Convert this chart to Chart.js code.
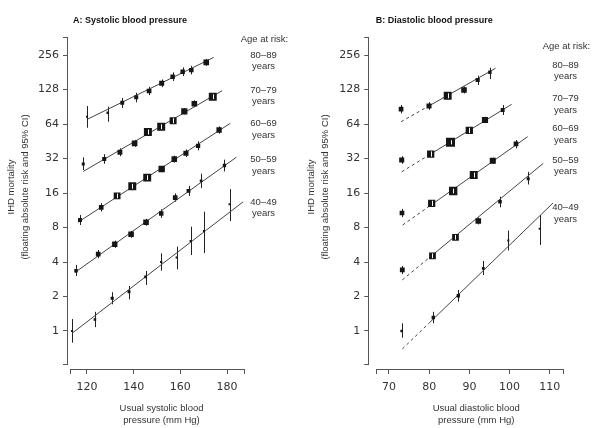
<!DOCTYPE html>
<html>
<head>
<meta charset="utf-8">
<script src="https://cdn.jsdelivr.net/npm/chart.js@4.4.1/dist/chart.umd.min.js"></script>
<style>
  html, body { margin: 0; padding: 0; background: #fff; }
  #wrap { position: relative; width: 606px; height: 428px; }
  canvas { position: absolute; top: 0; }
  #panelA { left: 0; }
  #panelB { left: 300px; }
</style>
</head>
<body>
<div id="wrap">
  <canvas id="panelA" width="300" height="428"></canvas>
  <canvas id="panelB" width="306" height="428"></canvas>
</div>
<script>
// age groups, top line first
const ageGroups = ['80–89', '70–79', '60–69', '50–59', '40–49'];
const yTickValues = [1, 2, 4, 8, 16, 32, 64, 128, 256];

// A: usual systolic blood pressure (mm Hg) vs IHD mortality
const sbpTicks = [120, 140, 160, 180];
const sbpX = [
  [120.0, 128.9, 135.1, 141.1, 146.6, 152.0, 156.7, 161.0, 164.7, 171.1],
  [118.4, 127.4, 134.1, 140.4, 146.1, 151.8, 156.9, 161.7, 166.0, 173.9],
  [117.0, 126.1, 132.9, 139.4, 145.8, 152.0, 157.4, 162.4, 167.6, 176.6],
  [115.3, 124.8, 131.9, 138.9, 145.3, 151.8, 157.8, 163.5, 168.9, 178.9],
  [113.6, 123.4, 130.8, 138.0, 145.1, 151.8, 158.4, 164.4, 170.1, 181.1]
];
const sbpRisk = [
  [74.1, 80.3, 98.2, 109.5, 124.2, 145, 165.6, 183, 189, 221],
  [28.7, 31.7, 36.3, 43.4, 54.5, 60.6, 68.4, 82.6, 96.2, 110.8],
  [9.30, 12.0, 15.1, 18.3, 21.8, 25.9, 31.6, 35.6, 41.3, 56.7],
  [3.36, 4.68, 5.72, 6.98, 8.88, 10.6, 14.6, 16.7, 20.4, 27.8],
  [1.0, 1.26, 1.93, 2.20, 2.96, 4.0, 4.38, 6.10, 7.46, 12.75]
];
const sbpLow = [
  [59.4, 67.0, 88.3, 99.0, 114.4, 134.2, 151.9, 167.8, 173.3, 206.2],
  [25.4, 28.8, 33.5, 40.5, 51.9, 57.7, 64.7, 77.6, 89.8, 105.5],
  [8.41, 11.04, 14.26, 17.43, 20.76, 24.37, 29.48, 32.99, 37.74, 52.72],
  [3.02, 4.31, 5.32, 6.51, 8.29, 9.72, 13.43, 15.10, 17.65, 24.71],
  [0.79, 1.08, 1.71, 1.89, 2.52, 3.36, 3.45, 4.60, 4.79, 9.1]
];
const sbpHigh = [
  [91.9, 90.6, 107.9, 120.0, 134.9, 156.7, 180.6, 199.6, 206.1, 236.9],
  [32.8, 34.9, 39.3, 46.5, 57.2, 63.6, 72.3, 87.9, 103.1, 116.3],
  [10.28, 13.04, 15.99, 19.22, 22.89, 27.53, 33.87, 38.42, 45.19, 60.98],
  [3.77, 5.09, 6.15, 7.48, 9.52, 11.56, 15.87, 18.47, 23.58, 31.28],
  [1.27, 1.47, 2.18, 2.47, 3.34, 4.76, 5.44, 8.13, 10.99, 17.3]
];
const sbpFitX = [[120.4, 174.3], [118.4, 177.9], [116.1, 181.4], [114.9, 184.0], [113.6, 186.9]];
const sbpFitY = [[70.8, 244], [24.7, 125], [8.88, 64.9], [3.25, 32.8], [0.955, 13.4]];

// B: usual diastolic blood pressure (mm Hg) vs IHD mortality
const dbpTicks = [70, 80, 90, 100, 110];
const dbpX = [
  [73.0, 79.95, 84.6, 88.66, 92.06, 95.1],
  [73.16, 80.37, 85.30, 89.98, 93.88, 98.28],
  [73.23, 80.62, 85.97, 91.07, 95.82, 101.59],
  [73.31, 80.82, 86.54, 92.21, 97.61, 104.63],
  [73.16, 81.02, 87.24, 93.46, 99.68, 107.49]
];
const dbpRisk = [
  [86.2, 91.9, 112.8, 126.8, 154.9, 181.2],
  [31.05, 35.0, 44.3, 56.2, 69.4, 84.8],
  [10.71, 13.0, 16.66, 22.97, 30.55, 43.0],
  [3.41, 4.53, 6.57, 9.12, 13.43, 21.3],
  [1.0, 1.31, 2.03, 3.52, 6.16, 7.81]
];
const dbpLow = [
  [79.3, 85.1, 107.4, 118.3, 140.1, 158.0],
  [28.75, 33.18, 42.42, 53.28, 65.16, 76.7],
  [9.86, 12.32, 15.90, 21.87, 28.66, 39.3],
  [3.14, 4.28, 6.20, 8.51, 12.0, 18.98],
  [0.874, 1.17, 1.80, 3.08, 5.04, 5.63]
];
const dbpHigh = [
  [93.7, 99.3, 118.5, 135.9, 168.9, 198.4],
  [33.53, 36.92, 46.26, 59.28, 73.92, 93.7],
  [11.63, 13.72, 17.45, 24.13, 32.57, 46.4],
  [3.69, 4.80, 6.96, 9.77, 14.86, 24.5],
  [1.167, 1.47, 2.28, 4.08, 7.53, 10.28]
];
// fitted lines: dashed up to the middle point (extrapolated below the data)
const dbpFitX = [[73.0, 80, 96.5], [73.16, 80, 100.52], [73.4, 80, 104.5], [73.31, 80, 108.38], [73.31, 80, 110.8]];
const dbpFitY = [[67.0, 92.3, 196], [24.5, 34.4, 95.1], [8.41, 12.25, 49.6], [2.79, 4.36, 29.06], [0.697, 1.175, 13.09]];

const INK = '#151515';
const AXIS = '#555';
const TEXT = '#333';

// box side (px) goes with the inverse of the CI width, as in the original
function boxSide(raw) {
  const s = 1.12 / Math.log2(raw.hi / raw.lo);
  return Math.max(2, Math.min(9.5, s));
}

function makePanel(canvasId, p) {
  const datasets = [];
  p.x.forEach((xs, i) => {
    datasets.push({
      type: 'line',
      data: p.fitX[i].map((x, j) => ({ x: x, y: p.fitY[i][j] })),
      borderColor: '#444',
      borderWidth: 1,
      pointRadius: 0,
      fill: false,
      order: 2,
      segment: {
        borderDash: ctx => (p.dashFirst && ctx.p0DataIndex === 0) ? [3, 3] : undefined
      }
    });
    datasets.push({
      type: 'scatter',
      kind: 'obs',
      data: xs.map((x, j) => ({ x: x, y: p.risk[i][j], lo: p.low[i][j], hi: p.high[i][j] })),
      pointStyle: 'rect',
      pointRadius: ctx => boxSide(ctx.raw) / Math.SQRT2,
      pointBackgroundColor: INK,
      pointBorderWidth: 0,
      order: 1
    });
  });

  const bars = {
    id: 'ciBars',
    beforeDatasetsDraw(chart) {
      const ctx = chart.ctx, ys = chart.scales.y;
      ctx.save();
      ctx.strokeStyle = '#222';
      ctx.lineWidth = 1;
      chart.data.datasets.forEach((ds, i) => {
        if (ds.kind !== 'obs') return;
        chart.getDatasetMeta(i).data.forEach((el, j) => {
          const r = ds.data[j];
          const x = Math.round(el.x) + 0.5;
          ctx.beginPath();
          ctx.moveTo(x, ys.getPixelForValue(r.lo));
          ctx.lineTo(x, ys.getPixelForValue(r.hi));
          ctx.stroke();
        });
      });
      ctx.restore();
    },
    afterDatasetsDraw(chart) {
      const ctx = chart.ctx, ys = chart.scales.y;
      ctx.save();
      ctx.strokeStyle = '#fff';
      ctx.lineWidth = 1;
      chart.data.datasets.forEach((ds, i) => {
        if (ds.kind !== 'obs') return;
        chart.getDatasetMeta(i).data.forEach((el, j) => {
          const r = ds.data[j];
          const s = boxSide(r);
          if (s < 6.4) return;
          const x = Math.round(el.x) + 0.5;
          ctx.beginPath();
          ctx.moveTo(x, Math.min(el.y + s / 2 - 1, ys.getPixelForValue(r.lo)));
          ctx.lineTo(x, Math.max(el.y - s / 2 + 1, ys.getPixelForValue(r.hi)));
          ctx.stroke();
        });
      });
      ctx.restore();
    }
  };

  const axes = {
    id: 'axisLines',
    afterDraw(chart) {
      const ctx = chart.ctx, xs = chart.scales.x, ys = chart.scales.y, a = chart.chartArea;
      ctx.save();
      ctx.strokeStyle = AXIS;
      ctx.lineWidth = 1;
      const lx = Math.round(a.left) - 0.5;
      ctx.beginPath();
      ctx.moveTo(lx, ys.getPixelForValue(p.yAxisEnds[0]));
      ctx.lineTo(lx, ys.getPixelForValue(p.yAxisEnds[1]));
      ctx.stroke();
      const by = Math.round(a.bottom) + 0.5;
      ctx.beginPath();
      ctx.moveTo(xs.getPixelForValue(p.xAxisEnds[0]), by);
      ctx.lineTo(xs.getPixelForValue(p.xAxisEnds[1]), by);
      ctx.stroke();
      ctx.restore();
    }
  };

  const labels = {
    id: 'panelText',
    afterDraw(chart) {
      const ctx = chart.ctx;
      ctx.save();
      ctx.textAlign = 'center';
      ctx.textBaseline = 'middle';
      ctx.fillStyle = '#111';
      ctx.font = 'bold 9px "Liberation Sans", Arial, sans-serif';
      ctx.fillText(p.title, p.titleX, 20.7);

      ctx.fillStyle = TEXT;
      ctx.font = '9.5px "Liberation Sans", Arial, sans-serif';
      ctx.fillText('Age at risk:', p.ageX + 1, p.ageHeadY);
      ageGroups.forEach((g, i) => {
        ctx.fillText(g, p.ageX, p.ageY[i][0]);
        ctx.fillText('years', p.ageX, p.ageY[i][1]);
      });

      ctx.fillText(p.xTitle[0], p.xTitleX, 408.3);
      ctx.fillText(p.xTitle[1], p.xTitleX, 420.7);

      ctx.save();
      ctx.translate(p.yTitleX, 187);
      ctx.rotate(-Math.PI / 2);
      ctx.fillText('IHD mortality', 0, 0);
      ctx.fillText('(floating absolute risk and 95% CI)', 0, 14);
      ctx.restore();
      ctx.restore();
    }
  };

  new Chart(document.getElementById(canvasId), {
    type: 'scatter',
    data: { datasets: datasets },
    options: {
      responsive: false,
      animation: false,
      events: [],
      layout: { padding: { left: 0, top: 37.5, right: p.padRight, bottom: 0 } },
      plugins: { legend: { display: false }, tooltip: { enabled: false } },
      scales: {
        x: {
          type: 'linear',
          min: p.xRange[0],
          max: p.xRange[1],
          border: { display: false },
          grid: { drawOnChartArea: false, drawTicks: true, tickLength: 5, color: AXIS },
          ticks: {
            autoSkip: false,
            maxRotation: 0,
            padding: 7,
            color: TEXT,
            font: { family: 'DejaVu Sans', size: 11 },
            callback: v => p.xTicks.includes(v) ? String(v) : ''
          },
          afterBuildTicks: s => {
            s.ticks = [p.xAxisEnds[0], ...p.xTicks, p.xAxisEnds[1]].map(v => ({ value: v }));
          },
          afterFit: s => { s.height = 59; }
        },
        y: {
          type: 'logarithmic',
          min: p.yRange[0],
          max: p.yRange[1],
          border: { display: false },
          grid: { drawOnChartArea: false, drawTicks: true, tickLength: 5, color: AXIS },
          ticks: {
            autoSkip: false,
            padding: 4,
            color: TEXT,
            font: { family: 'DejaVu Sans', size: 11 },
            callback: v => yTickValues.includes(v) ? String(v) : ''
          },
          afterBuildTicks: s => {
            s.ticks = [p.yAxisEnds[0], ...yTickValues, p.yAxisEnds[1]].map(v => ({ value: v }));
          },
          afterFit: s => { s.width = p.yAxisWidth; }
        }
      }
    },
    plugins: [bars, axes, labels]
  });
}

makePanel('panelA', {
  x: sbpX, risk: sbpRisk, low: sbpLow, high: sbpHigh,
  fitX: sbpFitX, fitY: sbpFitY, dashFirst: false,
  xTicks: sbpTicks, xRange: [111.86, 187.41], xAxisEnds: [113, 187.41],
  yRange: [0.466, 364], yAxisEnds: [0.515, 364],
  yAxisWidth: 68, padRight: 55.7,
  title: 'A: Systolic blood pressure', titleX: 130,
  xTitle: ['Usual systolic blood', 'pressure (mm Hg)'], xTitleX: 161.5,
  yTitleX: 11,
  ageX: 263.5, ageHeadY: 39.3,
  ageY: [[55, 66.7], [90, 101.7], [123.3, 135.7], [159.3, 171.7], [202, 213.3]]
});

makePanel('panelB', {
  x: dbpX, risk: dbpRisk, low: dbpLow, high: dbpHigh,
  fitX: dbpFitX, fitY: dbpFitY, dashFirst: true,
  xTicks: dbpTicks, xRange: [65.10, 113.41], xAxisEnds: [66.89, 113.41],
  yRange: [0.466, 364], yAxisEnds: [0.515, 364],
  yAxisWidth: 69.3, padRight: 42.5,
  title: 'B: Diastolic blood pressure', titleX: 134.2,
  xTitle: ['Usual diastolic blood', 'pressure (mm Hg)'], xTitleX: 176.2,
  yTitleX: 11.7,
  ageX: 265.5, ageHeadY: 46.7,
  ageY: [[65, 76], [98.3, 110], [128.3, 140], [160, 171.7], [207.3, 219.3]]
});
</script>
</body>
</html>
